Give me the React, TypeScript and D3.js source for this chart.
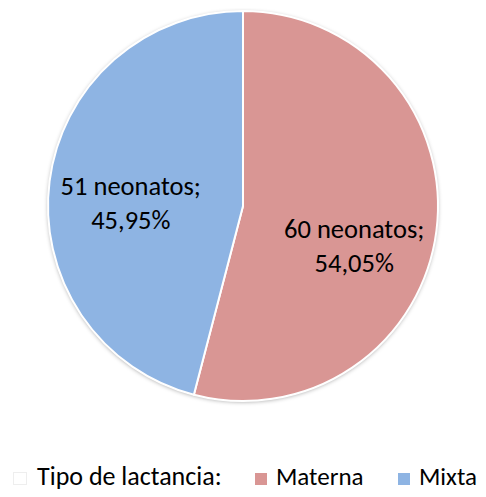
import { useEffect, useRef } from 'react'
import * as d3 from 'd3'

// Tipo de lactancia (neonatos)
const categories = ['Materna', 'Mixta']
const counts = [60, 51]
const percentLabels = ['54,05%', '45,95%']
const colors = ['#D99694', '#8EB4E3']
const legendTitle = 'Tipo de lactancia:'

const W = 486
const H = 497
const FONT = "Carlito, Calibri, Lato, 'Open Sans', sans-serif"

export default function App() {
  const svgRef = useRef<SVGSVGElement>(null)

  useEffect(() => {
    if (!svgRef.current) return
    const svg = d3.select(svgRef.current)
    svg.selectAll('*').remove()

    const cx = 243
    const cy = 206
    const r = 195

    const defs = svg.append('defs')
    const f = defs
      .append('filter')
      .attr('id', 'shadow')
      .attr('x', '-10%')
      .attr('y', '-10%')
      .attr('width', '120%')
      .attr('height', '120%')
    f.append('feDropShadow')
      .attr('dx', 0)
      .attr('dy', 1)
      .attr('stdDeviation', 2)
      .attr('flood-color', '#000')
      .attr('flood-opacity', 0.35)

    const pie = d3
      .pie<number>()
      .sort(null)
      .startAngle(0)
      .endAngle(2 * Math.PI)
    const arcs = pie(counts)

    const arc = d3.arc<d3.PieArcDatum<number>>().innerRadius(0).outerRadius(r)

    const g = svg.append('g').attr('transform', `translate(${cx},${cy})`)

    // shadow base
    g.append('circle').attr('r', r).attr('fill', '#fff').attr('filter', 'url(#shadow)')

    g.selectAll('path.slice')
      .data(arcs)
      .enter()
      .append('path')
      .attr('class', 'slice')
      .attr('d', arc)
      .attr('fill', (_, i) => colors[i])
      .attr('stroke', '#fff')
      .attr('stroke-width', 2)
      .attr('stroke-linejoin', 'round')

    // data labels
    const labelArc = d3.arc<d3.PieArcDatum<number>>().innerRadius(0).outerRadius(r * 1.15)
    const labelShift = [
      [0, 18],
      [-1, 3],
    ]
    arcs.forEach((a, i) => {
      const [lx, ly] = labelArc.centroid(a)
      const t = g
        .append('text')
        .attr('text-anchor', 'middle')
        .attr('font-family', FONT)
        .attr('font-size', 26.5)
        .attr('fill', '#000')
      t.append('tspan')
        .attr('x', lx + labelShift[i][0])
        .attr('y', ly + labelShift[i][1])
        .text(`${counts[i]} neonatos;`)
      t.append('tspan')
        .attr('x', lx + labelShift[i][0])
        .attr('y', ly + labelShift[i][1] + 34)
        .text(percentLabels[i])
    })

    // legend
    const lg = svg.append('g').attr('font-family', FONT).attr('font-size', 25)
    const baseY = 485
    lg.append('rect')
      .attr('x', 13.5)
      .attr('y', 472.5)
      .attr('width', 13)
      .attr('height', 12)
      .attr('fill', '#fff')
      .attr('stroke', '#eee')
    lg.append('text').attr('x', 37).attr('y', baseY).attr('font-size', 26).text(legendTitle)

    const legendX = d3.scalePoint<string>().domain(categories).range([255, 398])
    categories.forEach((c, i) => {
      const x = legendX(c) ?? 0
      lg.append('rect')
        .attr('x', x)
        .attr('y', 473)
        .attr('width', 12)
        .attr('height', 12)
        .attr('fill', colors[i])
      lg.append('text')
        .attr('x', x + 21)
        .attr('y', baseY)
        .text(c)
    })
  }, [])

  return (
    <div style={{ margin: -8, width: W, height: H, background: '#fff' }}>
      <svg ref={svgRef} width={W} height={H} style={{ display: 'block' }} />
    </div>
  )
}
